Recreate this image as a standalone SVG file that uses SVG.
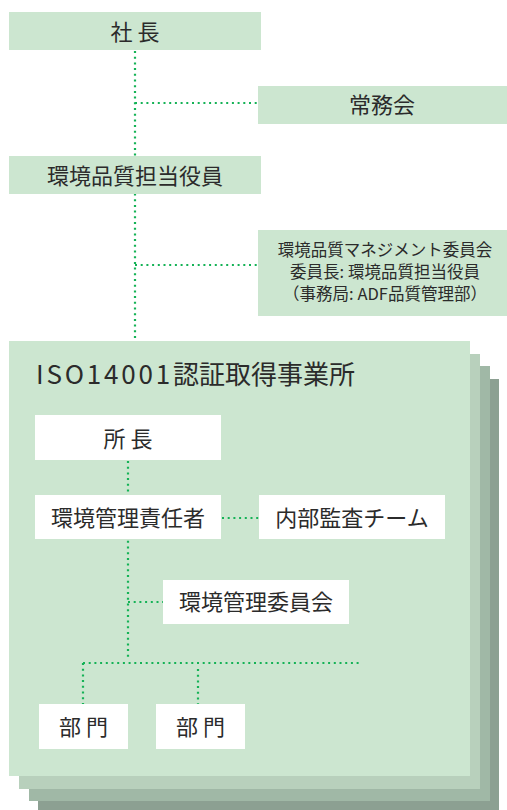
<svg xmlns="http://www.w3.org/2000/svg" width="507" height="810" viewBox="0 0 507 810">
<style>
.g{fill:#cce6d0}
.w{fill:#ffffff}
.t{font-family:"Noto Sans CJK JP","Noto Sans",sans-serif;fill:#2b2b2b;text-anchor:middle}
.l{font-size:22px}
.s{font-size:16.5px}
.c{fill:none;stroke:#14b256;stroke-width:2.2;stroke-dasharray:2 3.7}
</style>
<rect width="507" height="810" fill="#ffffff"/>
<g id="site">
<rect x="38" y="379" width="461" height="431" fill="#8ca092"/>
<rect x="29" y="366" width="461" height="435" fill="#a0b8a6"/>
<rect x="19" y="354" width="461" height="435" fill="#b8d0bc"/>
<rect x="9" y="341" width="461" height="435" class="g"/>
<text x="36" y="384" class="t" style="font-size:26px;text-anchor:start"><tspan letter-spacing="2.8">ISO14001</tspan>認証取得事業所</text>
</g>
<g id="connectors">
<path class="c" d="M135 51V340"/>
<path class="c" d="M135 103H258"/>
<path class="c" d="M135 265H258"/>
<path class="c" d="M128 461V659"/>
<path class="c" d="M222 518H259"/>
<path class="c" d="M128 602H163"/>
<path class="c" d="M83 663H362"/>
<path class="c" d="M83 663V706"/>
<path class="c" d="M198 669V704"/>
</g>
<g id="president">
<rect x="9" y="12" width="252" height="38" class="g"/>
<text x="135" y="40" class="t l">社 長</text>
</g>
<g id="board">
<rect x="258" y="86" width="249" height="38" class="g"/>
<text x="382" y="113" class="t l">常務会</text>
</g>
<g id="officer">
<rect x="9" y="156" width="252" height="38" class="g"/>
<text x="135" y="184" class="t l">環境品質担当役員</text>
</g>
<g id="committee">
<rect x="258" y="230" width="249" height="86" class="g"/>
<text x="385" y="256" class="t s">環境品質マネジメント委員会</text>
<text x="385" y="278" class="t s">委員長: 環境品質担当役員</text>
<text x="385" y="300" class="t s">（事務局: ADF品質管理部）</text>
</g>
<g id="director">
<rect x="35" y="415" width="186" height="45" class="w"/>
<text x="128" y="447" class="t l">所 長</text>
</g>
<g id="manager">
<rect x="35" y="495" width="186" height="44" class="w"/>
<text x="128" y="526" class="t l">環境管理責任者</text>
</g>
<g id="audit">
<rect x="259" y="495" width="186" height="44" class="w"/>
<text x="352" y="526" class="t l">内部監査チーム</text>
</g>
<g id="envcommittee">
<rect x="163" y="580" width="186" height="44" class="w"/>
<text x="256" y="610" class="t l">環境管理委員会</text>
</g>
<g id="dept1">
<rect x="39" y="704" width="89" height="45" class="w"/>
<text x="83.5" y="735" class="t l">部 門</text>
</g>
<g id="dept2">
<rect x="156" y="704" width="89" height="45" class="w"/>
<text x="200.5" y="735" class="t l">部 門</text>
</g>
</svg>
